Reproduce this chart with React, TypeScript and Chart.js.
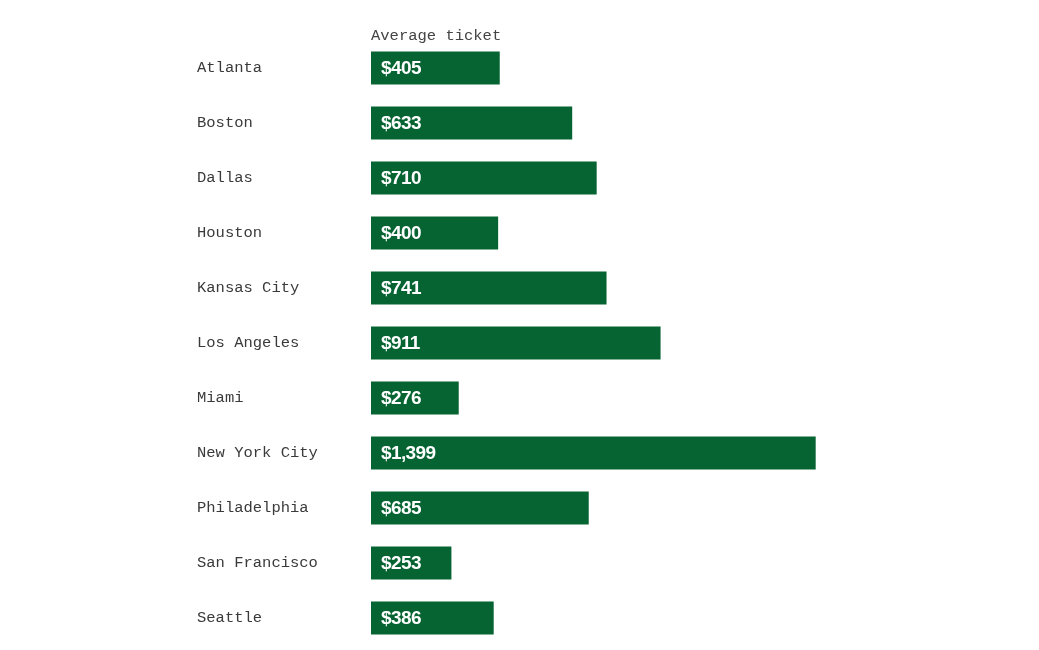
import React, { useEffect, useRef } from "react";
import { Chart, registerables } from "chart.js";

Chart.register(...registerables);

const cities = [
  "Atlanta",
  "Boston",
  "Dallas",
  "Houston",
  "Kansas City",
  "Los Angeles",
  "Miami",
  "New York City",
  "Philadelphia",
  "San Francisco",
  "Seattle",
];
const averageTicket = [405, 633, 710, 400, 741, 911, 276, 1399, 685, 253, 386];
const headerText = "Average ticket";

const MONO = '"Liberation Mono", "DejaVu Sans Mono", monospace';

const fmt = (v: number) => "$" + v.toLocaleString("en-US");

const valueLabels = {
  id: "valueLabels",
  afterDatasetsDraw(chart: any) {
    const ctx = chart.ctx;
    const meta = chart.getDatasetMeta(0);
    ctx.save();
    ctx.font = 'bold 19px "Liberation Sans", Arial, sans-serif';
    try {
      (ctx as any).letterSpacing = "-0.6px";
    } catch (e) {}
    ctx.fillStyle = "#ffffff";
    ctx.textAlign = "left";
    ctx.textBaseline = "middle";
    meta.data.forEach((el: any, i: number) => {
      ctx.fillText(fmt(averageTicket[i]), el.base + 10, el.y + 1);
    });
    ctx.restore();
    // header
    ctx.save();
    ctx.font = "15.5px " + MONO;
    ctx.fillStyle = "#444444";
    ctx.textAlign = "left";
    ctx.textBaseline = "middle";
    ctx.fillText(headerText, chart.chartArea.left, 36);
    ctx.restore();
  },
};

export default function App() {
  const ref = useRef<HTMLCanvasElement>(null);
  useEffect(() => {
    if (!ref.current) return;
    const chart = new Chart(ref.current, {
      type: "bar",
      data: {
        labels: cities,
        datasets: [
          {
            data: averageTicket,
            backgroundColor: "#066433",
            borderWidth: 0,
            categoryPercentage: 1,
            barPercentage: 0.6,
          },
        ],
      },
      options: {
        indexAxis: "y",
        animation: false,
        responsive: false,
        maintainAspectRatio: false,
        layout: { padding: { left: 197, right: 223, top: 40.5, bottom: 4.5 } },
        plugins: {
          legend: { display: false },
          tooltip: { enabled: false },
          title: { display: false },
        },
        scales: {
          x: {
            display: false,
            min: 0,
            max: 1400,
          },
          y: {
            grid: { display: false },
            border: { display: false },
            ticks: {
              crossAlign: "far",
              padding: 0,
              color: "#3a3a3a",
              font: { family: MONO, size: 15.5 },
            },
            afterFit(scale: any) {
              scale.width = 174;
              scale.paddingTop = 0;
              scale.paddingBottom = 0;
            },
          },
        },
      },
      plugins: [valueLabels],
    });
    return () => chart.destroy();
  }, []);
  return (
    <div style={{ position: "absolute", left: 0, top: 0, width: 1039, height: 650, background: "#fff" }}>
      <canvas ref={ref} width={1039} height={650} style={{ display: "block" }} />
    </div>
  );
}
